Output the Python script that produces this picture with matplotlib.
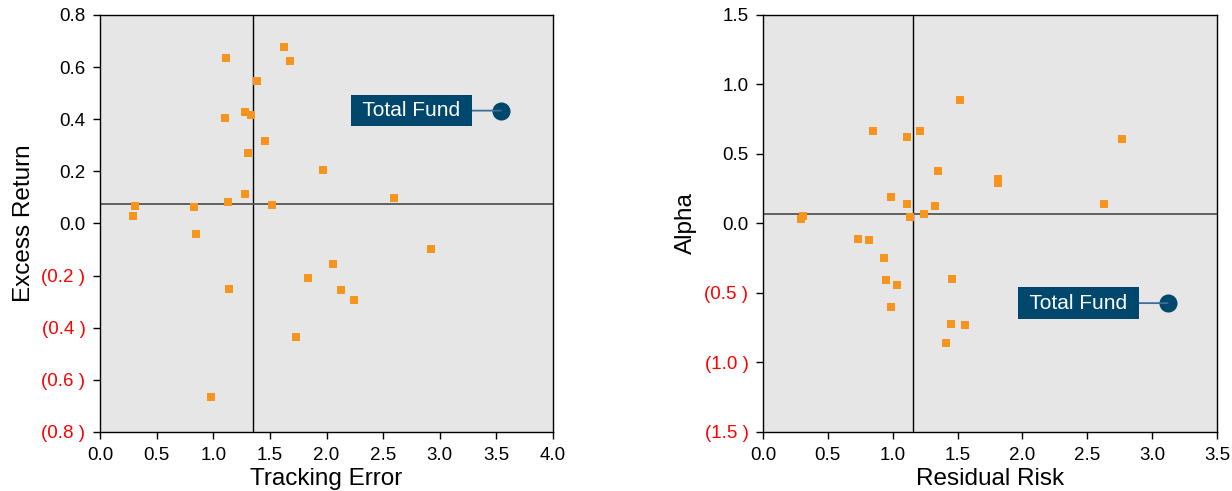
import matplotlib
matplotlib.use("Agg")
import matplotlib.pyplot as plt
import numpy as np
from matplotlib.ticker import FuncFormatter

plt.rcParams["font.family"] = ["Liberation Sans", "DejaVu Sans"]

# Left panel: tracking error vs excess return
te = [1.11, 1.62, 1.68, 1.39, 1.28, 1.33, 1.10, 1.46, 1.31, 1.97, 2.60, 1.28, 1.13,
      1.52, 0.31, 0.83, 0.29, 0.85, 2.92, 2.06, 1.84, 1.14, 2.13, 2.24, 1.73, 0.98]
excess = [0.636, 0.679, 0.625, 0.547, 0.427, 0.416, 0.404, 0.315, 0.269, 0.207, 0.099,
          0.115, 0.084, 0.072, 0.068, 0.064, 0.030, -0.039, -0.097, -0.155, -0.209,
          -0.251, -0.255, -0.294, -0.436, -0.664]
te_fund, excess_fund = 3.54, 0.433
te_median, excess_median = 1.35, 0.075

# Right panel: residual risk vs alpha
resid = [1.52, 0.85, 1.21, 1.11, 2.77, 1.35, 1.81, 1.81, 0.99, 1.11, 2.63, 1.33, 0.31,
         0.29, 1.13, 1.24, 0.73, 0.82, 0.93, 1.46, 0.95, 1.03, 0.99, 1.45, 1.56, 1.41]
alpha = [0.888, 0.664, 0.664, 0.621, 0.606, 0.374, 0.321, 0.292, 0.193, 0.142, 0.142,
         0.128, 0.055, 0.034, 0.050, 0.065, -0.109, -0.116, -0.246, -0.399, -0.406,
         -0.442, -0.601, -0.725, -0.732, -0.862]
resid_fund, alpha_fund = 3.12, -0.573
resid_median, alpha_median = 1.16, 0.065

ORANGE = "#f7941d"
NAVY = "#00476e"
BG = "#e6e6e6"


def paren_fmt(v, pos):
    if v < -1e-9:
        return f"({abs(v):.1f} )"
    return f"{abs(v):.1f}"


def draw_panel(ax, x, y, fx, fy, xmed, ymed, xlim, ylim, ystep, xlabel, ylabel):
    ax.set_facecolor(BG)
    ax.scatter(x, y, marker="s", s=32, color=ORANGE, linewidths=0, zorder=3)
    ax.axvline(xmed, color="black", lw=1.0, zorder=2)
    ax.axhline(ymed, color="#555555", lw=1.3, zorder=2)
    ax.plot([fx], [fy], "o", ms=12, color=NAVY, zorder=4)
    # label box sits left of the fund dot, joined by a short line
    ax.annotate(" Total Fund ", xy=(fx, fy), xytext=(-25, 0), textcoords="offset points",
                ha="right", va="center", color="white", fontsize=15,
                bbox=dict(boxstyle="square,pad=0.3", fc=NAVY, ec="none"),
                arrowprops=dict(arrowstyle="-", color="#3c6f94", lw=1.3,
                                shrinkA=0, shrinkB=0), zorder=5)
    ax.set_xlim(*xlim)
    ax.set_ylim(*ylim)
    ax.set_xticks(np.arange(xlim[0], xlim[1] + 0.01, 0.5))
    ax.set_yticks(np.arange(ylim[0], ylim[1] + 0.01, ystep))
    ax.xaxis.set_major_formatter(FuncFormatter(lambda v, p: f"{v:.1f}"))
    ax.yaxis.set_major_formatter(FuncFormatter(paren_fmt))
    ax.tick_params(labelsize=13.5, direction="out", length=5, width=1, pad=5.5)
    for lab, val in zip(ax.get_yticklabels(), ax.get_yticks()):
        if val < -1e-9:
            lab.set_color("red")
    for sp in ax.spines.values():
        sp.set_color("black")
        sp.set_linewidth(1.0)
    ax.set_xlabel(xlabel, fontsize=17.5, labelpad=3)
    ax.set_ylabel(ylabel, fontsize=17.5, labelpad=5)


fig = plt.figure(figsize=(12.32, 4.91), dpi=100)
ax1 = fig.add_axes([0.0812, 0.1202, 0.3677, 0.8493])
ax2 = fig.add_axes([0.6193, 0.1202, 0.3685, 0.8493])

draw_panel(ax1, te, excess, te_fund, excess_fund, te_median, excess_median,
           (0, 4.0), (-0.8, 0.8), 0.2, "Tracking Error", "Excess Return")
draw_panel(ax2, resid, alpha, resid_fund, alpha_fund, resid_median, alpha_median,
           (0, 3.5), (-1.5, 1.5), 0.5, "Residual Risk", "Alpha")

fig.savefig("out.png", dpi=100)
